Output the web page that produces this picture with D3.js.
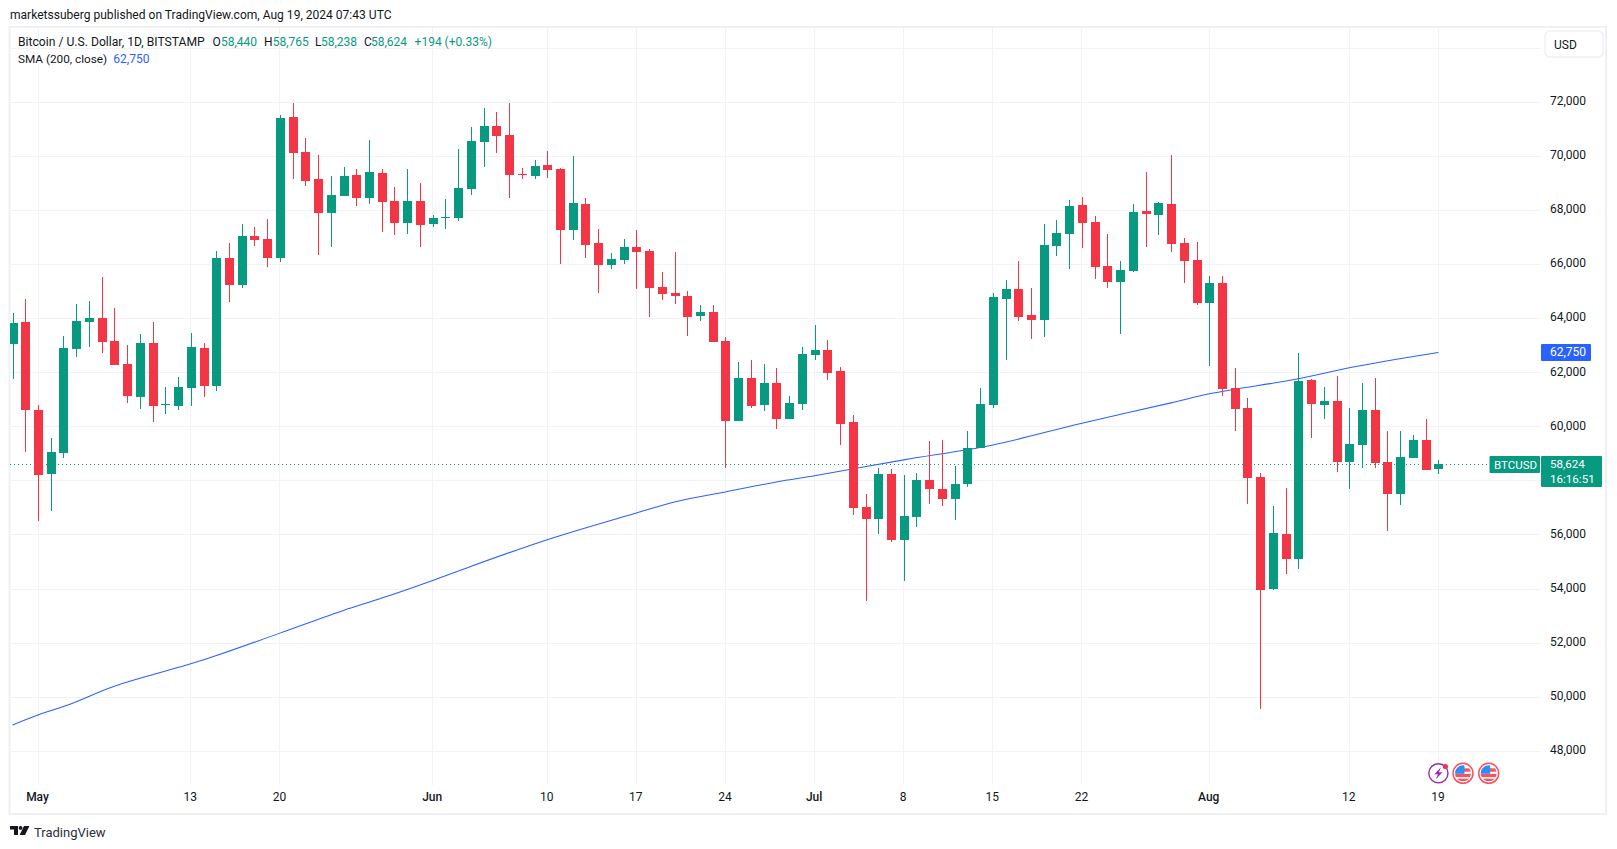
<!DOCTYPE html>
<html>
<head>
<meta charset="utf-8">
<script src="https://cdn.jsdelivr.net/npm/d3@7"></script>
<style>
    html, body { margin: 0; padding: 0; background: #ffffff; }
    svg { display: block; }
    text { font-family: Roboto, sans-serif; fill: #131722; }
</style>
</head>
<body>
<div id="chart"></div>
<script>
// daily candles, 29 Apr - 19 Aug 2024
const firstDay = "2024-04-29";
const lastDay = "2024-08-19";

const opens = [
    63061, 63864,
    60604, 58245, 59023, 62876, 63864, 64012, 63160, 62308, 61098, 63086, 60790, 60765, 61431, 62901, 61505, 66233,
    65245, 67047, 66937, 66233, 71457, 70160, 69160, 67900, 68530, 69308, 68456, 69382, 68344, 67529, 68344,
    67492, 67740, 67715, 68789, 70530, 71123, 70790, 69345, 69271, 69678, 69530, 67270, 68233, 66788, 65973, 66159,
    66640, 66492, 65158, 64936, 64825, 64084, 64232, 63156, 60204, 61791, 60795, 61606, 60278, 60832,
    62640, 62824, 62049, 60167, 57031, 56588, 58248, 55813, 56662, 58027, 57695, 57326, 57880, 59208, 60795, 64714,
    65084, 64121, 63936, 66677, 67122, 68197, 67567, 65937, 65344, 65752, 67975, 67826, 68234, 66789, 66159,
    64566, 65307, 61422, 60684, 58138, 54005, 56035, 55112, 61717, 60795, 60942, 58691, 59318, 60610, 58691, 57510, 58839, 59503, 58440
];
const highs = [
    64198, 64716,
    60789, 59603, 63345, 64531, 64642, 65529, 64383, 63012, 63420, 63864, 61456, 61826, 63457, 63086, 66492, 66788,
    67492, 67381, 67678, 71531, 71975, 70679, 70049, 69271, 69604, 69530, 70604, 69530, 68863, 69530, 69011,
    67826, 68418, 70271, 71086, 71790, 71642, 71975, 69567, 69863, 70197, 69567, 70012, 68456, 67307, 66418, 66937,
    67270, 66566, 65714, 66455, 65010, 64491, 64491, 63304, 62381, 62455, 62308, 62160, 61127, 62935,
    63783, 63193, 62197, 60426, 57510, 58470, 58433, 58212, 58285, 59466, 59503, 58544, 59835, 61422, 64936, 65418,
    66121, 65121, 67492, 67640, 68382, 68493, 67789, 67122, 66122, 68234, 69420, 68308, 70049, 66974, 66826,
    65566, 65566, 62160, 61053, 58285, 57068, 57732, 62713, 61754, 61459, 61865, 60684, 61606, 61791, 59835, 59835, 59688, 60278, 58765
];
const lows = [
    61752, 59060,
    56504, 56899, 58838, 62580, 62950, 62728, 62283, 60875, 60653, 60172, 60468, 60616, 60765, 61098, 61320, 64605,
    65133, 66677, 65900, 66084, 69160, 68900, 66344, 66640, 68530, 68159, 68233, 67196, 67085, 67122, 66640,
    67381, 67307, 67604, 68567, 69604, 70123, 68456, 69160, 69160, 69197, 66010, 66900, 66233, 64936, 65825, 66010,
    65084, 64047, 64677, 64529, 63343, 63898, 63120, 58470, 60204, 60684, 60573, 59909, 60278, 60610,
    62455, 61717, 59319, 56736, 53562, 56035, 55739, 54300, 56293, 57142, 57068, 56551, 57770, 59208, 60684, 62453,
    63898, 63232, 63306, 66307, 65826, 66604, 65455, 65122, 63418, 65715, 66641, 67085, 66456, 65307, 64492,
    62232, 61157, 59835, 57142, 49577, 53968, 54558, 54743, 59577, 60278, 58322, 57695, 58470, 58470, 56145, 57105, 58839, 58396, 58238
];
const closes = [
    63827, 60616,
    58208, 59085, 62901, 63901, 64012, 63136, 62283, 61135, 63086, 60765, 60825, 61456, 62938, 61505, 66233, 65245,
    67047, 66900, 66233, 71420, 70123, 69085, 67900, 68567, 69271, 68456, 69419, 68307, 67529, 68344, 67456,
    67715, 67765, 68826, 70567, 71123, 70752, 69308, 69308, 69641, 69493, 67270, 68270, 66714, 65973, 66196, 66640,
    66455, 65121, 64899, 64825, 64047, 64232, 63120, 60204, 61791, 60758, 61606, 60278, 60868, 62677,
    62824, 61975, 60093, 56994, 56588, 58248, 55813, 56699, 58027, 57695, 57326, 57880, 59208, 60832, 64788, 65084,
    64047, 63936, 66714, 67159, 68160, 67530, 65900, 65344, 65789, 67937, 67863, 68271, 66752, 66122, 64566,
    65307, 61380, 60647, 58101, 53968, 56071, 55112, 61680, 60831, 60942, 58691, 59355, 60610, 58654, 57510, 58876, 59503, 58396, 58624
];

// SMA (200, close)
const smaDates = [
    "2024-04-29", "2024-05-01", "2024-05-03", "2024-05-07", "2024-05-10", "2024-05-13", "2024-05-14", "2024-05-20", "2024-05-25",
    "2024-05-28", "2024-06-01", "2024-06-04", "2024-06-10", "2024-06-17", "2024-06-20", "2024-06-24", "2024-06-28",
    "2024-07-01", "2024-07-08", "2024-07-15", "2024-07-22", "2024-07-29", "2024-08-01", "2024-08-08", "2024-08-12", "2024-08-19"
];
const smaValues = [
    48974, 49344, 49653, 50406, 50833, 51234, 51382, 52370, 53210,
    53665, 54320, 54838, 55826, 56814, 57222, 57592, 57957,
    58190, 58777, 59330, 60132, 60885, 61219, 61775, 62183, 62750
];

const tickDates = [
    "2024-05-01", "2024-05-13", "2024-05-20", "2024-06-01", "2024-06-10", "2024-06-17", "2024-06-24",
    "2024-07-01", "2024-07-08", "2024-07-15", "2024-07-22", "2024-08-01", "2024-08-12", "2024-08-19"
];
const tickLabels = ["May", "13", "20", "Jun", "10", "17", "24", "Jul", "8", "15", "22", "Aug", "12", "19"];
// 58,000 sits under the last price tag, so it has no label
const priceTicks = [48000, 50000, 52000, 54000, 56000, 60000, 62000, 64000, 66000, 68000, 70000, 72000];
const gridPrices = [48000, 50000, 52000, 54000, 56000, 58000, 60000, 62000, 64000, 66000, 68000, 70000, 72000, 74000];

const lastPrice = 58624;
const lastSma = 62750;

const green = "#089981", red = "#f23645", blue = "#2962ff", gridColor = "#f2f3f6", frameColor = "#eff0f6";
const parseDay = d3.utcParse("%Y-%m-%d");
const priceFormat = d3.format(",");

const candleDays = d3.utcDay.range(parseDay(firstDay), d3.utcDay.offset(parseDay(lastDay), 1));
const candles = candleDays.map((day, i) => ({day: day, o: opens[i], h: highs[i], l: lows[i], c: closes[i]}));

const x = d3.scaleUtc().domain([parseDay("2024-05-01"), parseDay("2024-08-19")]).range([38, 1438.4]);
const y = d3.scaleLinear().domain([48000, 72000]).range([751.3, 102.3]);

const paneLeft = 10, paneRight = 1541, paneTop = 27, paneBottom = 785, frameRight = 1606, frameBottom = 814;

const svg = d3.select("#chart").append("svg").attr("width", 1617).attr("height", 849);

svg.append("defs").append("clipPath").attr("id", "pane")
    .append("rect").attr("x", paneLeft).attr("y", paneTop)
    .attr("width", paneRight - paneLeft).attr("height", paneBottom - paneTop);

// frame
svg.append("rect")
    .attr("x", paneLeft - 0.5).attr("y", paneTop)
    .attr("width", frameRight - paneLeft + 0.5).attr("height", frameBottom - paneTop)
    .attr("fill", "none").attr("stroke", frameColor).attr("stroke-width", 2);

// grid
const grid = svg.append("g").attr("shape-rendering", "crispEdges");
grid.selectAll(".hgrid").data(gridPrices).enter().append("line")
    .attr("class", "hgrid")
    .attr("x1", paneLeft).attr("x2", paneRight)
    .attr("y1", d => y(d)).attr("y2", d => y(d))
    .attr("stroke", gridColor);
grid.selectAll(".vgrid").data(tickDates).enter().append("line")
    .attr("class", "vgrid")
    .attr("x1", d => x(parseDay(d))).attr("x2", d => x(parseDay(d)))
    .attr("y1", paneTop).attr("y2", paneBottom)
    .attr("stroke", gridColor);

const pane = svg.append("g").attr("clip-path", "url(#pane)");

// last price line
pane.append("line")
    .attr("x1", paneLeft).attr("x2", 1489)
    .attr("y1", Math.round(y(lastPrice)) + 0.5).attr("y2", Math.round(y(lastPrice)) + 0.5)
    .attr("stroke", green).attr("stroke-width", 1).attr("stroke-dasharray", "1 3");

// sma
const smaLine = d3.line()
    .x((d, i) => x(parseDay(smaDates[i])))
    .y(d => y(d))
    .curve(d3.curveMonotoneX);
pane.append("path")
    .attr("d", smaLine(smaValues))
    .attr("fill", "none").attr("stroke", blue).attr("stroke-width", 1.05);

// candles
const candle = pane.selectAll(".candle").data(candles).enter().append("g")
    .attr("class", "candle")
    .attr("shape-rendering", "crispEdges")
    .attr("fill", d => d.c >= d.o ? green : red);
candle.append("rect")
    .attr("x", d => Math.round(x(d.day)) - 0.5)
    .attr("width", 1)
    .attr("y", d => y(d.h))
    .attr("height", d => y(d.l) - y(d.h));
candle.append("rect")
    .attr("x", d => Math.round(x(d.day)) - 4.5)
    .attr("width", 9)
    .attr("y", d => y(Math.max(d.o, d.c)))
    .attr("height", d => Math.max(1, Math.abs(y(d.o) - y(d.c))));

// price axis
const yAxis = svg.append("g")
    .attr("transform", `translate(${paneRight + 9},-1.5)`)
    .call(d3.axisRight(y).tickValues(priceTicks).tickFormat(priceFormat).tickSize(0).tickPadding(0));
yAxis.select(".domain").remove();
yAxis.selectAll("text").style("font-size", "12px").style("font-family", "Roboto, sans-serif").attr("fill", "#131722");

// time axis
const xAxis = svg.append("g")
    .attr("transform", `translate(-1,${paneBottom + 7})`)
    .call(d3.axisBottom(x).tickValues(tickDates.map(parseDay))
        .tickFormat((d, i) => tickLabels[i]).tickSize(0).tickPadding(0));
xAxis.select(".domain").remove();
xAxis.selectAll("text")
    .style("font-size", "12px").style("font-family", "Roboto, sans-serif")
    .style("font-weight", (d, i) => isNaN(+tickLabels[i]) ? 500 : 400)
    .attr("fill", "#131722");

// header
const addText = (str, px, py, size, color, weight) => svg.append("text")
    .text(str).attr("x", px).attr("y", py)
    .attr("dominant-baseline", "central")
    .style("font-size", size + "px")
    .style("font-weight", weight || 400)
    .style("fill", color || "#131722");

addText("marketssuberg published on TradingView.com, Aug 19, 2024 07:43 UTC", 10, 14.5, 12.05);
addText("Bitcoin / U.S. Dollar, 1D, BITSTAMP", 18, 41.5, 12.15);
addText("O", 212.5, 41.5, 12);
addText("58,440", 221, 41.5, 12, green);
addText("H", 264, 41.5, 12);
addText("58,765", 272.7, 41.5, 12, green);
addText("L", 315, 41.5, 12);
addText("58,238", 321, 41.5, 12, green);
addText("C", 364, 41.5, 12);
addText("58,624", 371, 41.5, 12, green);
addText("+194 (+0.33%)", 414.6, 41.5, 12, green);
addText("SMA (200, close)", 18, 58.5, 11.75);
addText(priceFormat(lastSma), 113.3, 58.5, 12, blue);

// USD button
svg.append("rect").attr("x", 1545).attr("y", 31).attr("width", 58).attr("height", 26).attr("rx", 5)
    .attr("fill", "#ffffff").attr("stroke", frameColor).attr("stroke-width", 1.5);
addText("USD", 1554, 44.5, 12);

// price tags
svg.append("rect").attr("x", 1541).attr("y", y(lastSma) - 8.5).attr("width", 50).attr("height", 17).attr("rx", 1).attr("fill", blue);
addText(priceFormat(lastSma), 1550, y(lastSma) - 0.5, 12, "#ffffff");
svg.append("rect").attr("x", 1489.5).attr("y", y(lastPrice) - 8).attr("width", 50.5).attr("height", 17).attr("rx", 1).attr("fill", green);
addText("BTCUSD", 1494, y(lastPrice) + 0.5, 11.5, "#ffffff");
svg.append("rect").attr("x", 1541).attr("y", y(lastPrice) - 8).attr("width", 61).attr("height", 31).attr("rx", 1).attr("fill", green);
addText(priceFormat(lastPrice), 1550, y(lastPrice) - 0.5, 11.6, "#ffffff");
addText("16:16:51", 1550, y(lastPrice) + 14.5, 11.6, "#ffffff");

// event icons on the time line
const iconY = 773.3;
const bolt = svg.append("g").attr("transform", `translate(${x(parseDay(lastDay))},${iconY})`);
bolt.append("circle").attr("r", 9.6).attr("fill", "#ffffff").attr("stroke", "#9c27b0").attr("stroke-width", 1.4);
bolt.append("path").attr("d", "M2.5,-6 L-4,1 L-0.5,1 L-2.5,6 L4,-1 L0.5,-1 Z").attr("fill", "#9c27b0");
bolt.append("circle").attr("cx", 7).attr("cy", -6.8).attr("r", 2.6).attr("fill", red);

const flagCenters = [1463, 1488.7];
flagCenters.forEach((cx, i) => {
    const flag = svg.append("g").attr("transform", `translate(${cx},${iconY})`);
    flag.append("clipPath").attr("id", "flag" + i).append("circle").attr("r", 8);
    flag.append("circle").attr("r", 10).attr("fill", "#ffffff").attr("stroke", "#f7525f").attr("stroke-width", 1.5);
    const inner = flag.append("g").attr("clip-path", `url(#flag${i})`);
    inner.append("rect").attr("x", -9).attr("y", -9).attr("width", 18).attr("height", 18).attr("fill", "#ffffff");
    inner.append("rect").attr("x", -9).attr("y", -5).attr("width", 18).attr("height", 3.4).attr("fill", "#f7525f");
    inner.append("rect").attr("x", -9).attr("y", 0.6).attr("width", 18).attr("height", 3.2).attr("fill", "#f7525f");
    inner.append("rect").attr("x", -9).attr("y", 5.4).attr("width", 18).attr("height", 4).attr("fill", "#f7525f");
    inner.append("rect").attr("x", -9).attr("y", -9).attr("width", 10.5).attr("height", 9.5).attr("fill", "#2e8fef");
});

// logo
const logo = svg.append("g").attr("transform", "translate(10,826)").attr("fill", "#131722");
logo.append("path").attr("d", "M0,0 H8 V9 H4 V3.6 H0 Z");
logo.append("circle").attr("cx", 10.6).attr("cy", 1.9).attr("r", 1.9);
logo.append("path").attr("d", "M14,0 H19.4 L15,9 H9.6 Z");
addText("TradingView", 34, 832, 13, "#2a2e39");
</script>
</body>
</html>
